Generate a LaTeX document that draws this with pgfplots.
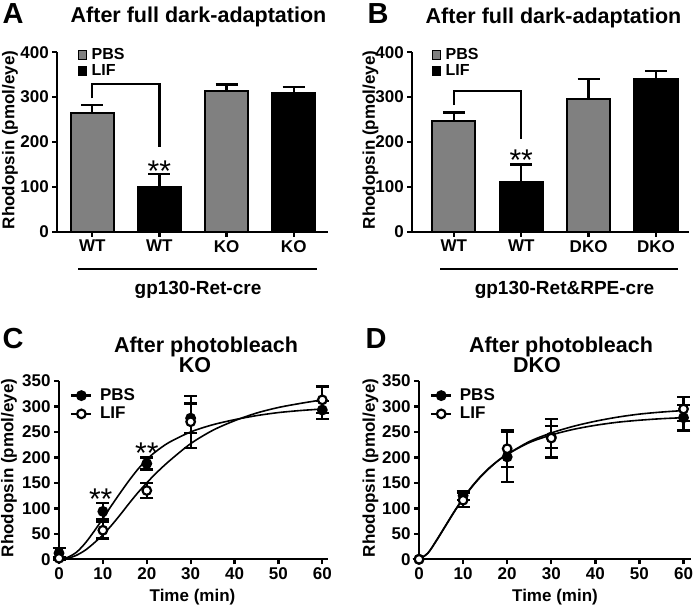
\documentclass[border=0pt]{standalone}
\usepackage{pgfplots}
\pgfplotsset{compat=1.18}
\usepackage{fontspec}
\setmainfont{Liberation Sans}
\definecolor{barg}{RGB}{128,128,128}
\newcommand{\fs}[1]{\fontsize{#1bp}{#1bp}\selectfont}
\pgfplotsset{
 common/.style={
  scale only axis,
  axis x line*=bottom, axis y line*=left,
  every outer x axis line/.append style={-},
  every outer y axis line/.append style={-},
  axis line style={line width=2.3bp, black},
  tick style={line width=2.3bp, black},
  major tick length=5bp,
  tick align=outside,
  ticklabel style={font=\fs{17}\bfseries},
  /pgf/number format/assume math mode=true,
  clip=false,
 },
 barax/.style={common,
  ymin=0, ymax=400, ytick={0,100,...,400},
  xtick={1,2,3,4},
  legend cell align=left,
  legend style={draw=none, fill=none, font=\fs{16}\bfseries, inner sep=0pt, row sep=0.5bp,
    nodes={inner sep=1.5bp}, /tikz/every odd column/.append style={column sep=3bp}},
  legend image code/.code={\draw[#1, line width=0.8bp] (0bp,-4.5bp) rectangle (8.5bp,4.5bp);},
 },
 lineax/.style={common,
  xmin=0, ymin=0, ymax=350, xtick={0,10,...,60}, ytick={0,50,...,350},
  legend cell align=left,
  legend style={draw=none, fill=none, font=\fs{17}\bfseries, inner sep=0pt, row sep=2bp,
    nodes={inner sep=1.5bp}, /tikz/every odd column/.append style={column sep=6bp}},
  legend image code/.code={\draw[line width=2.3bp, black] (-10bp,0bp) -- (10bp,0bp);
     \draw[#1] plot coordinates {(0bp,0bp)};},
 },
 ebar/.style 2 args={error bars/.cd, y dir=#2, y explicit, error bar style={line width=2.3bp, black},
   error mark options={rotate=90, mark size=#1, line width=2.3bp, black}},
 barpbs/.style={ybar, bar shift=0pt, bar width=43bp, fill=barg, draw=black, line width=2.3bp,
   ebar={11bp}{plus}},
 barlif/.style={ybar, bar shift=0pt, bar width=43bp, fill=black, draw=black, line width=2.3bp,
   ebar={11bp}{plus}},
 ptpbs/.style={only marks, mark=*, mark size=4.3bp, mark options={fill=black, draw=black, line width=2.2bp},
   ebar={6.5bp}{both}},
 ptlif/.style={only marks, mark=*, mark size=4.3bp, mark options={fill=white, draw=black, line width=2.2bp},
   ebar={6.5bp}{both}},
 curve/.style={black, line width=1.6bp, smooth, forget plot},
}
\begin{document}
\begin{tikzpicture}[x=1bp, y=1bp]
\useasboundingbox (0,0) rectangle (693,610);

% ---------- Panel A ----------
\begin{axis}[barax, at={(57.3bp,378.3bp)}, anchor=south west, width=270.7bp, height=179.4bp,
  xmin=0.48, xmax=4.51, xticklabels={WT,WT,KO,KO},
  legend style={at={(0.075,1.03)}, anchor=north west}]
\addplot[barpbs] coordinates {(1,265) +- (0,18) (3,314) +- (0,14)};
\addlegendentry{PBS}
\addplot[barlif] coordinates {(2,99) +- (0,29) (4,308) +- (0,14)};
\addlegendentry{LIF}
\draw[line width=2.3bp] (axis cs:1,297) |- (axis cs:2,330) -- (axis cs:2,189);
\node[anchor=base, font=\fs{30}] at (axis cs:2,111) {**};
\end{axis}

% ---------- Panel B ----------
\begin{axis}[barax, at={(412.3bp,378.3bp)}, anchor=south west, width=277bp, height=179.4bp,
  xmin=0.384, xmax=4.494, xticklabels={WT,WT,DKO,DKO},
  legend style={at={(0.07,1.03)}, anchor=north west}]
\addplot[barpbs] coordinates {(1,247) +- (0,19) (3,296) +- (0,44)};
\addlegendentry{PBS}
\addplot[barlif] coordinates {(2,111) +- (0,39) (4,341) +- (0,18)};
\addlegendentry{LIF}
\draw[line width=2.3bp] (axis cs:1,282) |- (axis cs:2,314) -- (axis cs:2,207);
\node[anchor=base, font=\fs{30}] at (axis cs:2,136) {**};
\end{axis}

% ---------- Panel C ----------
\begin{axis}[lineax, at={(59bp,50.7bp)}, anchor=south west, width=269bp, height=178.3bp,
  xmax=61.3, legend style={at={(0.041,0.965)}, anchor=north west}]
\addplot[curve] coordinates {(0,0) (2,4) (4,14) (6,32) (8,55) (10,80) (12,106) (14,131) (16,155) (18,177) (20,196) (22,211) (25,229) (30,250) (35,264) (40,274) (45,282) (50,288) (55,292) (60,295)};
\addplot[curve] coordinates {(0,0) (2,2) (4,8) (6,18) (8,32) (10,48) (12,67) (14,88) (16,110) (18,131) (20,150) (22,168) (25,192) (30,227) (35,253) (40,272) (45,287) (50,298) (55,306) (60,313)};
\addplot[ptpbs] coordinates {(0,12) +- (0,10) (10,94) +- (0,16) (20,188) +- (0,12) (30,277) +- (0,29) (60,293) +- (0,18)};
\addlegendentry{PBS}
\addplot[ptlif] coordinates {(0,2) +- (0,3) (10,57) +- (0,16) (20,135) +- (0,15) (30,270) +- (0,51) (60,313) +- (0,26)};
\addlegendentry{LIF}
\node[anchor=base, font=\fs{30}] at (axis cs:9.5,97) {**};
\node[anchor=base, font=\fs{30}] at (axis cs:20,188) {**};
\end{axis}

% ---------- Panel D ----------
\begin{axis}[lineax, at={(419bp,50.7bp)}, anchor=south west, width=272bp, height=178.3bp,
  xmax=61.7, legend style={at={(0.04,0.965)}, anchor=north west}]
\addplot[curve] coordinates {(0,0) (2,12) (4,38) (6,66) (8,94) (10,120) (12,143) (14,163) (16,180) (18,194) (20,206) (25,229) (30,244) (35,255) (40,263) (45,269) (50,273) (55,276) (60,278)};
\addplot[curve] coordinates {(0,0) (2,12) (4,37) (6,65) (8,93) (10,119) (12,142) (14,162) (16,179) (18,194) (20,206) (25,231) (30,248) (35,261) (40,271) (45,279) (50,285) (55,289) (60,292)};
\addplot[ptpbs] coordinates {(0,0) +- (0,0) (10,125) +- (0,9) (20,201) +- (0,49) (30,240) +- (0,22) (60,278) +- (0,25)};
\addlegendentry{PBS}
\addplot[ptlif] coordinates {(0,0) +- (0,0) (10,116) +- (0,14) (20,217) +- (0,36) (30,238) +- (0,38) (60,295) +- (0,24)};
\addlegendentry{LIF}
\end{axis}

% ---------- Annotations ----------
\node[anchor=base west, font=\fs{29}\bfseries] at (-1,586) {A};
\node[anchor=base, font=\fs{21.5}\bfseries] at (198.5,587) {After full dark-adaptation};
\node[anchor=base west, font=\fs{29}\bfseries] at (364,586) {B};
\node[anchor=base, font=\fs{21.5}\bfseries] at (553.5,586) {After full dark-adaptation};
\node[anchor=base west, font=\fs{29}\bfseries] at (-1,261) {C};
\node[anchor=base, font=\fs{21.5}\bfseries] at (206,257) {After photobleach};
\node[anchor=base, font=\fs{21.5}\bfseries] at (195,237) {KO};
\node[anchor=base west, font=\fs{29}\bfseries] at (362,261) {D};
\node[anchor=base, font=\fs{21.5}\bfseries] at (561,257) {After photobleach};
\node[anchor=base, font=\fs{21.5}\bfseries] at (537,237) {DKO};

\node[rotate=90, font=\fs{17}\bfseries] at (10,470) {Rhodopsin (pmol/eye)};
\node[rotate=90, font=\fs{17}\bfseries] at (370.5,470) {Rhodopsin (pmol/eye)};
\node[rotate=90, font=\fs{17}\bfseries] at (9,142) {Rhodopsin (pmol/eye)};
\node[rotate=90, font=\fs{17}\bfseries] at (370.5,142) {Rhodopsin (pmol/eye)};
\node[font=\fs{17}\bfseries] at (192.5,13) {Time (min)};
\node[font=\fs{17}\bfseries] at (555,13) {Time (min)};

\draw[line width=2.3bp] (78,341) -- (317,341);
\node[font=\fs{19}\bfseries] at (198,320) {gp130-Ret-cre};
\draw[line width=2.3bp] (440,341) -- (678,341);
\node[font=\fs{19}\bfseries] at (564.5,320) {gp130-Ret\&RPE-cre};
\end{tikzpicture}
\end{document}
